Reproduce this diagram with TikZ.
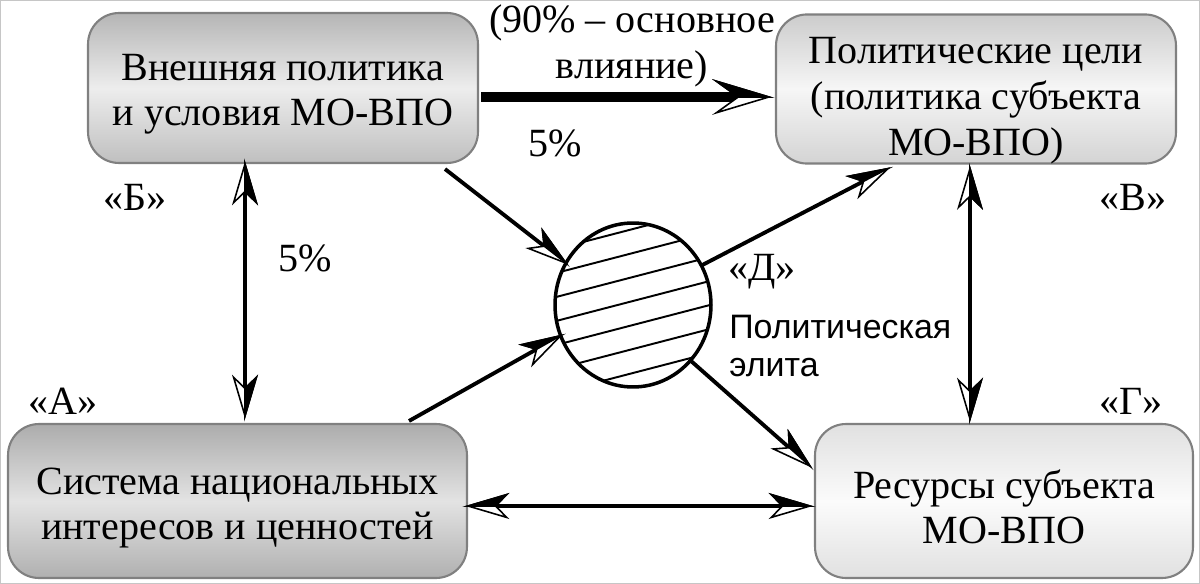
\documentclass[tikz,border=0pt]{standalone}
\usepackage{fontspec}
\setmainfont{Liberation Serif}
\newfontfamily\elitafont{Liberation Sans}
\usetikzlibrary{arrows.meta,calc,shapes.geometric}
\newdimen\hsnotch
\pgfdeclarearrow{
  name = HalfA,
  defaults = {length = 22pt, width = 13pt, inset = 6pt},
  parameters = {\the\pgfarrowlength,\the\pgfarrowwidth,\the\pgfarrowinset},
  setup code = {
    \pgfarrowssettipend{0pt}
    \pgfarrowssetbackend{-\pgfarrowlength}
    \hsnotch=\pgfarrowinset
    \advance\hsnotch by -\pgfarrowlength
    \pgfarrowssetlineend{\hsnotch}
    \pgfarrowssavethe\pgfarrowlength
    \pgfarrowssavethe\pgfarrowwidth
    \pgfarrowssavethe\pgfarrowinset
  },
  drawing code = {
    \hsnotch=\pgfarrowinset
    \advance\hsnotch by -\pgfarrowlength
    \pgfsetlinewidth{0.9pt}
    \pgfsetmiterjoin
    \pgfsetstrokecolor{black}
    \pgfsetfillcolor{white}
    \pgfpathmoveto{\pgfqpoint{0pt}{0pt}}
    \pgfpathlineto{\pgfqpoint{-\pgfarrowlength}{.5\pgfarrowwidth}}
    \pgfpathlineto{\pgfqpoint{\hsnotch}{0pt}}
    \pgfpathlineto{\pgfqpoint{-\pgfarrowlength}{-.5\pgfarrowwidth}}
    \pgfpathclose
    \pgfusepathqfillstroke
    \pgfsetfillcolor{black}
    \pgfpathmoveto{\pgfqpoint{0pt}{0pt}}
    \pgfpathlineto{\pgfqpoint{-\pgfarrowlength}{.5\pgfarrowwidth}}
    \pgfpathlineto{\pgfqpoint{\hsnotch}{0pt}}
    \pgfpathclose
    \pgfusepathqfillstroke
  }
}
\pgfdeclarearrow{
  name = HalfB,
  defaults = {length = 22pt, width = 13pt, inset = 6pt},
  parameters = {\the\pgfarrowlength,\the\pgfarrowwidth,\the\pgfarrowinset},
  setup code = {
    \pgfarrowssettipend{0pt}
    \pgfarrowssetbackend{-\pgfarrowlength}
    \hsnotch=\pgfarrowinset
    \advance\hsnotch by -\pgfarrowlength
    \pgfarrowssetlineend{\hsnotch}
    \pgfarrowssavethe\pgfarrowlength
    \pgfarrowssavethe\pgfarrowwidth
    \pgfarrowssavethe\pgfarrowinset
  },
  drawing code = {
    \hsnotch=\pgfarrowinset
    \advance\hsnotch by -\pgfarrowlength
    \pgfsetlinewidth{0.9pt}
    \pgfsetmiterjoin
    \pgfsetstrokecolor{black}
    \pgfsetfillcolor{white}
    \pgfpathmoveto{\pgfqpoint{0pt}{0pt}}
    \pgfpathlineto{\pgfqpoint{-\pgfarrowlength}{.5\pgfarrowwidth}}
    \pgfpathlineto{\pgfqpoint{\hsnotch}{0pt}}
    \pgfpathlineto{\pgfqpoint{-\pgfarrowlength}{-.5\pgfarrowwidth}}
    \pgfpathclose
    \pgfusepathqfillstroke
    \pgfsetfillcolor{black}
    \pgfpathmoveto{\pgfqpoint{0pt}{0pt}}
    \pgfpathlineto{\pgfqpoint{-\pgfarrowlength}{-.5\pgfarrowwidth}}
    \pgfpathlineto{\pgfqpoint{\hsnotch}{0pt}}
    \pgfpathclose
    \pgfusepathqfillstroke
  }
}
\tikzset{
  tipA/.tip={HalfA[length=22pt,width=13pt,inset=6.3pt]},
  tipB/.tip={HalfB[length=22pt,width=13pt,inset=6.3pt]},
  bigtip/.tip={HalfA[length=30pt,width=18pt,inset=12.5pt]},
  conn/.style={line width=2.2pt, draw=black},
  thickconn/.style={line width=5.6pt, draw=black},
  boxtext/.style={font=\fontsize{22.8}{26}\selectfont},
  box/.style={rectangle, rounded corners=0.62cm, draw=black!50, line width=1.2pt,
    align=center, inner sep=0pt, boxtext},
  lab/.style={inner sep=0pt, boxtext},
  elita/.style={inner sep=0pt, align=left, font=\elitafont\fontsize{19.3}{21.5}\selectfont},
  hatch/.style={line width=1.1pt},
}
\newcommand{\dropline}[1]{\rule{0pt}{#1}}
\begin{document}
\begin{tikzpicture}[x=0.02cm,y=-0.02cm]
\useasboundingbox (0,0) rectangle (1200,584);
\fill[white] (0,0) rectangle (1200,584);
\draw[gray!45, line width=0.6pt] (0.5,0.5) rectangle (1199.5,583.5);

% boxes
\node[box, minimum width=7.8cm, minimum height=3cm,
  top color=gray!58, bottom color=gray!50, middle color=gray!14]
  (Bb) at (283,88) {\dropline{22pt}Внешняя политика\\и условия МО-ВПО};
\node[box, minimum width=8cm, minimum height=2.96cm,
  top color=gray!40, bottom color=gray!34, middle color=gray!7]
  (Vb) at (976,89) {\dropline{28pt}Политические цели\\(политика субъекта\\МО-ВПО)};
\node[box, minimum width=9.18cm, minimum height=3.08cm,
  top color=gray!65, bottom color=gray!62, middle color=gray!22]
  (Ab) at (237.5,501) {\dropline{23pt}Система национальных\\интересов и ценностей};
\node[box, minimum width=7.56cm, minimum height=3.08cm,
  top color=gray!24, bottom color=gray!24, middle color=gray!3]
  (Gb) at (1004,501) {\dropline{23pt}Ресурсы субъекта\\МО-ВПО};

% elite circle with hatching
\node[ellipse, draw=black, line width=2pt, fill=white, inner sep=0pt, outer sep=0pt,
  minimum width=3.12cm, minimum height=3.28cm,
  path picture={
    \foreach \c in {-76,-52,-28,-4,20,44,68}
      \draw[hatch] ([shift={(-95,\c+24.7)}]path picture bounding box.center)
        -- ([shift={(95,\c-24.7)}]path picture bounding box.center);
  }] (Cir) at (633,305) {};

% labels
\node[lab] (lB) at (135,197) {«Б»};
\node[lab] (lV) at (1133,197) {«В»};
\node[lab] (lA) at (63,401) {«А»};
\node[lab] (lG) at (1131,401) {«Г»};
\node[lab] (lD) at (762,272) {«Д»};
\node[lab] (p5a) at (305,258) {5\%};
\node[lab] (p5b) at (555,143) {5\%};
\node[lab, align=center] (p90) at (632,46) {(90\% – основное\\влияние)};
\node[elita, anchor=west] (pe) at (729,346) {Политическая\\элита};

% connectors
\draw[thickconn,-bigtip] ($(Bb.east)+(2,9)$) -- ($(Vb.west)+(-6,8)$);
\draw[conn,tipB-tipA] ($(Bb.south)+(-38,0)$) -- ($(Ab.north)+(7.5,-7)$);
\draw[conn,tipB-tipA] ($(Vb.south)+(-6,4)$) -- ($(Gb.north)+(-34,-4)$);
\draw[conn,tipB-tipA] ($(Ab.east)+(0,5)$) -- ($(Gb.west)+(-4,5)$);
\draw[conn,-tipA] ($(Bb.south east)+(-34,5)$) -- (Cir.148);
\draw[conn,-tipA] ($(Ab.north east)+(-59,-2)$) -- (Cir.203);
\draw[conn,-tipA] (Cir.30) -- ($(Vb.south west)+(113,4)$);
\draw[conn,-tipA] (Cir.-44) -- ($(Gb.west)+(-4,-35)$);
\end{tikzpicture}
\end{document}
